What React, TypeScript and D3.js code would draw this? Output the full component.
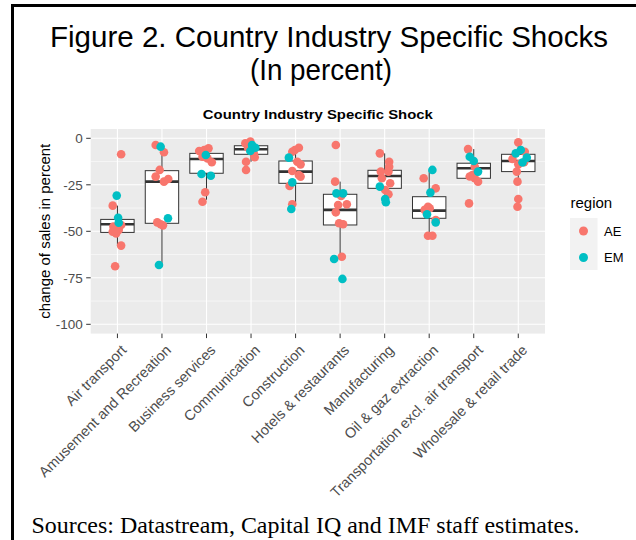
import React from "react";
import * as d3 from "d3";

const categories = [
  "Air transport",
  "Amusement and Recreation",
  "Business services",
  "Communication",
  "Construction",
  "Hotels & restaurants",
  "Manufacturing",
  "Oil & gaz extraction",
  "Transportation excl. air transport",
  "Wholesale & retail trade",
];

const yTicks = [0, -25, -50, -75, -100];
const yMinor = [-12.5, -37.5, -62.5, -87.5];

// boxplot statistics
const boxQ1 = [-50.6, -45.7, -18.8, -8.6, -24.2, -46.6, -26.9, -43, -21.5, -17.9];
const boxMedian = [-46.2, -23.3, -11.1, -5.9, -17.9, -38.5, -20.3, -38.9, -16.1, -12.2];
const boxQ3 = [-43.6, -17.4, -8.1, -4, -12.2, -30.1, -17.2, -31.4, -13.4, -8.6];
const whiskerLow = [-57.7, -68.1, -33, -12.6, -35.5, -64, -34.4, -52.4, -23.3, -23.3];
const whiskerHigh = [-36.2, -4.5, -5.4, -1.8, -5.1, -23.3, -8.1, -17, -5.8, -2.2];

// AE points (value) and jitter offsets (px) per category
const aeValues = [
  [-8.6, -36.2, -46.6, -47.5, -49.3, -50.2, -51.1, -57.7, -68.8],
  [-3.6, -7.5, -17, -20.6, -21.9, -23.3, -45.2, -46.2, -46.8],
  [-6.8, -6.3, -5.4, -9.9, -10.8, -12.9, -29, -34.1],
  [-2.7, -1.8, -5.1, -8.1, -10.2, -12.6, -17],
  [-5.1, -6.3, -7.2, -12.6, -14, -17.6, -19.7, -20.6, -25.6, -35.5],
  [-3.6, -23.3, -31, -35.9, -35.5, -39.8, -45.7, -46.2, -63.7],
  [-8.1, -12.6, -15.3, -17.9, -17.9, -21.5, -24.2, -27.8, -30.1],
  [-21.5, -26.9, -36.8, -38.5, -37.6, -43.9, -52.4, -52.4],
  [-5.8, -15.3, -19.7, -20.5, -21.5, -23.3, -35],
  [-2.2, -7.2, -11.1, -14, -12.9, -17.9, -23.3, -32.6, -36.8],
];
const aeJitter = [
  [3.7, -4.7, 3.7, -4, 1.3, -4.7, -1.3, 3.7, -2.3],
  [-6.3, 2, -2.3, -6.3, 6.3, 2, -4.7, -1.3, 1],
  [-7.3, -2.3, 2, -4, 1, 5.3, -1.3, -4],
  [-5.7, -0.7, -3, 2.7, 3.7, -5, -5],
  [3.3, -0.7, -3.3, 1.7, 5, -3.3, 3.3, 5, -6, -3.3],
  [-4.3, -5, 1, -2, 6.7, -4.3, -1, 3, 1.7],
  [-4.8, 4.5, 4.5, -3.8, 3.8, -2.8, 5.5, 0.5, 3.8],
  [-5.5, 6.5, -1.2, -4.5, 0.5, 6.5, -1.2, 3.2],
  [-5.7, 1, -1.3, -4, 1, 4.3, -4.7],
  [0, 6.5, -5.8, 0, 5.8, -1.5, -0.8, 0, -0.8],
];

// EM points (value) and jitter offsets (px) per category
const emValues = [
  [-30.8, -42.7, -45.4],
  [-4.5, -43, -68.1],
  [-9, -19.2, -20.1],
  [-3.6, -6.8, -5.1],
  [-10.4, -23.7, -38],
  [-29.6, -29.6, -64.9, -75.6],
  [-26, -32.6, -34.4],
  [-17, -29.2, -40.9, -45.2],
  [-9.9, -12.2, -17.9],
  [-6.3, -8.1, -10.4, -13],
];
const emJitter = [
  [-0.7, 0.7, 1.3],
  [-1.3, 6, -3],
  [-0.7, -5, 4.3],
  [1, -0.7, 4.3],
  [-6.7, -3.3, -4.3],
  [-3.7, 3, -6, 2.3],
  [-4.8, 0.5, 1.2],
  [3.2, 1.2, -2.2, 6.5],
  [-4, 0, 4.3],
  [2.5, -2.5, 8.5, 4.2],
];

const regions = ["AE", "EM"];
const regionColors = ["#F8766D", "#00BFC4"];

const W = 636;
const H = 540;
const panel = { left: 90.7, right: 545, top: 129, bottom: 333.6 };

export default function App() {
  const x = d3
    .scalePoint<string>()
    .domain(categories)
    .range([panel.left, panel.right])
    .padding(0.6);
  const y = d3.scaleLinear().domain([-105, 5]).range([panel.bottom, panel.top]);
  const step = x.step();
  const boxW = step * 0.75;
  const font = "Liberation Sans, Arial, sans-serif";

  return (
    <div style={{ position: "fixed", left: 0, top: 0 }}>
      <svg width={W} height={H} style={{ display: "block", background: "#fff" }}>
        <rect x={0} y={0} width={W} height={H} fill="#fff" />
        {/* frame */}
        <rect x={11} y={4} width={W - 11} height={3} fill="#000" />
        <rect x={11} y={4} width={3} height={H - 4} fill="#000" />

        {/* titles */}
        <text
          x={329}
          y={47}
          fontFamily={font}
          fontSize={30}
          textAnchor="middle"
          textLength={558}
          lengthAdjust="spacingAndGlyphs"
          fill="#000"
        >
          Figure 2. Country Industry Specific Shocks
        </text>
        <text
          x={321}
          y={80}
          fontFamily={font}
          fontSize={30}
          textAnchor="middle"
          textLength={142}
          lengthAdjust="spacingAndGlyphs"
          fill="#000"
        >
          (In percent)
        </text>
        <text
          x={(panel.left + panel.right) / 2}
          y={118.5}
          fontFamily={font}
          fontSize={13.5}
          fontWeight="bold"
          textAnchor="middle"
          textLength={230}
          lengthAdjust="spacingAndGlyphs"
          fill="#000"
        >
          Country Industry Specific Shock
        </text>

        {/* panel */}
        <rect
          x={panel.left}
          y={panel.top}
          width={panel.right - panel.left}
          height={panel.bottom - panel.top}
          fill="#EBEBEB"
        />
        {yMinor.map((v) => (
          <line
            key={"mn" + v}
            x1={panel.left}
            x2={panel.right}
            y1={y(v)}
            y2={y(v)}
            stroke="#fff"
            strokeWidth={0.55}
          />
        ))}
        {yTicks.map((v) => (
          <line
            key={"mj" + v}
            x1={panel.left}
            x2={panel.right}
            y1={y(v)}
            y2={y(v)}
            stroke="#fff"
            strokeWidth={1.1}
          />
        ))}
        {categories.map((c) => (
          <line
            key={"vg" + c}
            x1={x(c)}
            x2={x(c)}
            y1={panel.top}
            y2={panel.bottom}
            stroke="#fff"
            strokeWidth={1.1}
          />
        ))}

        {/* boxplots */}
        {categories.map((c, i) => {
          const cx = x(c)!;
          return (
            <g key={"bx" + c} stroke="#333333" fill="none">
              <line x1={cx} x2={cx} y1={y(boxQ3[i])} y2={y(whiskerHigh[i])} strokeWidth={1} />
              <line x1={cx} x2={cx} y1={y(boxQ1[i])} y2={y(whiskerLow[i])} strokeWidth={1} />
              <rect
                x={cx - boxW / 2}
                y={y(boxQ3[i])}
                width={boxW}
                height={y(boxQ1[i]) - y(boxQ3[i])}
                fill="#fff"
                strokeWidth={1}
              />
              <line
                x1={cx - boxW / 2}
                x2={cx + boxW / 2}
                y1={y(boxMedian[i])}
                y2={y(boxMedian[i])}
                strokeWidth={2.6}
              />
            </g>
          );
        })}

        {/* jittered points */}
        {categories.map((c, i) => (
          <g key={"pt" + c}>
            {aeValues[i].map((v, j) => (
              <circle
                key={"ae" + j}
                cx={x(c)! + aeJitter[i][j]}
                cy={y(v)}
                r={4.3}
                fill={regionColors[0]}
              />
            ))}
            {emValues[i].map((v, j) => (
              <circle
                key={"em" + j}
                cx={x(c)! + emJitter[i][j]}
                cy={y(v)}
                r={4.3}
                fill={regionColors[1]}
              />
            ))}
          </g>
        ))}

        {/* y axis */}
        {yTicks.map((v) => (
          <g key={"yt" + v}>
            <line x1={panel.left - 4.5} x2={panel.left} y1={y(v)} y2={y(v)} stroke="#333" strokeWidth={1} />
            <text
              x={panel.left - 8}
              y={y(v)}
              dy="0.35em"
              textAnchor="end"
              fontFamily={font}
              fontSize={13.5}
              fill="#4D4D4D"
            >
              {v}
            </text>
          </g>
        ))}
        <text
          transform={`translate(50,${(panel.top + panel.bottom) / 2}) rotate(-90)`}
          textAnchor="middle"
          fontFamily={font}
          fontSize={15}
          fill="#000"
        >
          change of sales in percent
        </text>

        {/* x axis */}
        {categories.map((c) => (
          <g key={"xt" + c}>
            <line x1={x(c)} x2={x(c)} y1={panel.bottom} y2={panel.bottom + 4.5} stroke="#333" strokeWidth={1} />
            <text
              transform={`translate(${x(c)! + 10},351) rotate(-45)`}
              textAnchor="end"
              fontFamily={font}
              fontSize={14.5}
              fill="#4D4D4D"
            >
              {c}
            </text>
          </g>
        ))}

        {/* legend */}
        <text x={570.5} y={208} fontFamily={font} fontSize={15} fill="#000">
          region
        </text>
        {regions.map((r, i) => (
          <g key={"lg" + r}>
            <rect x={570} y={218 + i * 26} width={27.5} height={26} fill="#F2F2F2" />
            <circle cx={583.5} cy={231 + i * 26.5} r={4.5} fill={regionColors[i]} />
            <text
              x={604}
              y={231 + i * 26.5}
              dy="0.35em"
              fontFamily={font}
              fontSize={13}
              fill="#000"
            >
              {r}
            </text>
          </g>
        ))}

        {/* source */}
        <text
          x={31.5}
          y={533}
          fontFamily="Liberation Serif, Times New Roman, serif"
          fontSize={23}
          textLength={548}
          lengthAdjust="spacingAndGlyphs"
          fill="#000"
        >
          Sources: Datastream, Capital IQ and IMF staff estimates.
        </text>
      </svg>
    </div>
  );
}
